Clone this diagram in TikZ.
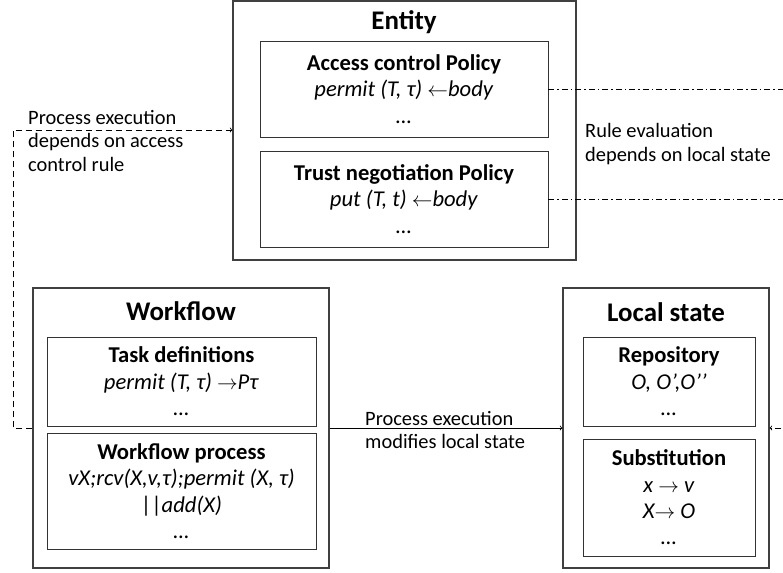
\documentclass[tikz,border=0pt]{standalone}
\usepackage{fontspec}
\setmainfont{Carlito}
\usetikzlibrary{positioning}

\newcommand{\la}{\ensuremath{\leftarrow}}
\newcommand{\ra}{\ensuremath{\rightarrow}}

\begin{document}
\begin{tikzpicture}[x=1bp, y=-1bp, font=\fontsize{20.5}{23.5}\selectfont,
    outerbox/.style={draw=black!75, line width=1.1bp, inner sep=0pt},
    innerbox/.style={draw=black!80, line width=0.9bp, inner sep=0pt, align=center,
        font=\fontsize{22.7}{26.5}\selectfont},
    boxtitle/.style={font=\fontsize{27}{30}\selectfont\bfseries, inner sep=0pt},
    note/.style={align=left, inner sep=0pt, anchor=west},
    flow/.style={->, line width=0.8bp}]
    \useasboundingbox (0,0) rectangle (783,573);

    % outer boxes
    \node [outerbox, minimum width=343bp, minimum height=259bp] (entity) at (404.5,130.5) {};
    \node [outerbox, minimum width=296bp, minimum height=280bp] (workflow) at (181,428) {};
    \node [outerbox, minimum width=206bp, minimum height=280bp] (local) at (666,428) {};

    \node [boxtitle] (entitytitle) at (404,22) {Entity};
    \node [boxtitle] (workflowtitle) at (181,311) {Workflow};
    \node [boxtitle] (localtitle) at (666,312) {Local state};

    % inner boxes
    \node [innerbox, minimum width=288bp, minimum height=96bp] (acp) at (404,89)
        {\textbf{Access control Policy}\\\textit{permit (T, τ) \la body}\\\textit{…}};
    \node [innerbox, minimum width=288bp, minimum height=96bp] (tnp) at (404,199)
        {\textbf{Trust negotiation Policy}\\\textit{put (T, t) \la body}\\\textit{…}};
    \node [innerbox, minimum width=269bp, minimum height=89bp] (task) at (181.5,381.5)
        {\textbf{Task definitions}\\\textit{permit (T, τ) \ra Pτ}\\\textit{…}};
    \node [innerbox, minimum width=269bp, minimum height=116bp] (wproc) at (181.5,491)
        {\textbf{Workflow process}\\\textit{vX;rcv(X,v,τ);permit (X, τ)}\\||\textit{add(X)}\\\textit{…}};
    \node [innerbox, minimum width=172bp, minimum height=89bp] (repo) at (669,381.5)
        {\textbf{Repository}\\\textit{O, O’,O’’}\\\textit{…}};
    \node [innerbox, minimum width=172bp, minimum height=117bp] (subst) at (669,497.5)
        {\textbf{Substitution}\\\textit{x \ra\ v}\\\textit{X\ra\ O}\\\textit{…}};

    % connectors
    \coordinate (leftbend) at (13,130);
    \coordinate (rightbend) at (800,428);
    \draw [flow, dash pattern=on 6bp off 4bp] (workflow.west) -| (leftbend) -- (leftbend -| entity.west);
    \draw [flow] (workflow.east) -- (local.west);
    \draw [line width=0.8bp, dash pattern=on 6bp off 3bp on 1.5bp off 3bp] (acp.east) -| (rightbend);
    \draw [flow, dash pattern=on 6bp off 3bp on 1.5bp off 3bp] (tnp.east) -| (rightbend) -- (local.east);

    \node [note] (accessnote) at (28,141) {Process execution\\depends on access\\control rule};
    \node [note] (rulenote) at (585,144) {Rule evaluation\\depends on local state};
    \node [note] (modifynote) at (365,430) {Process execution\\modifies local state};
\end{tikzpicture}
\end{document}
